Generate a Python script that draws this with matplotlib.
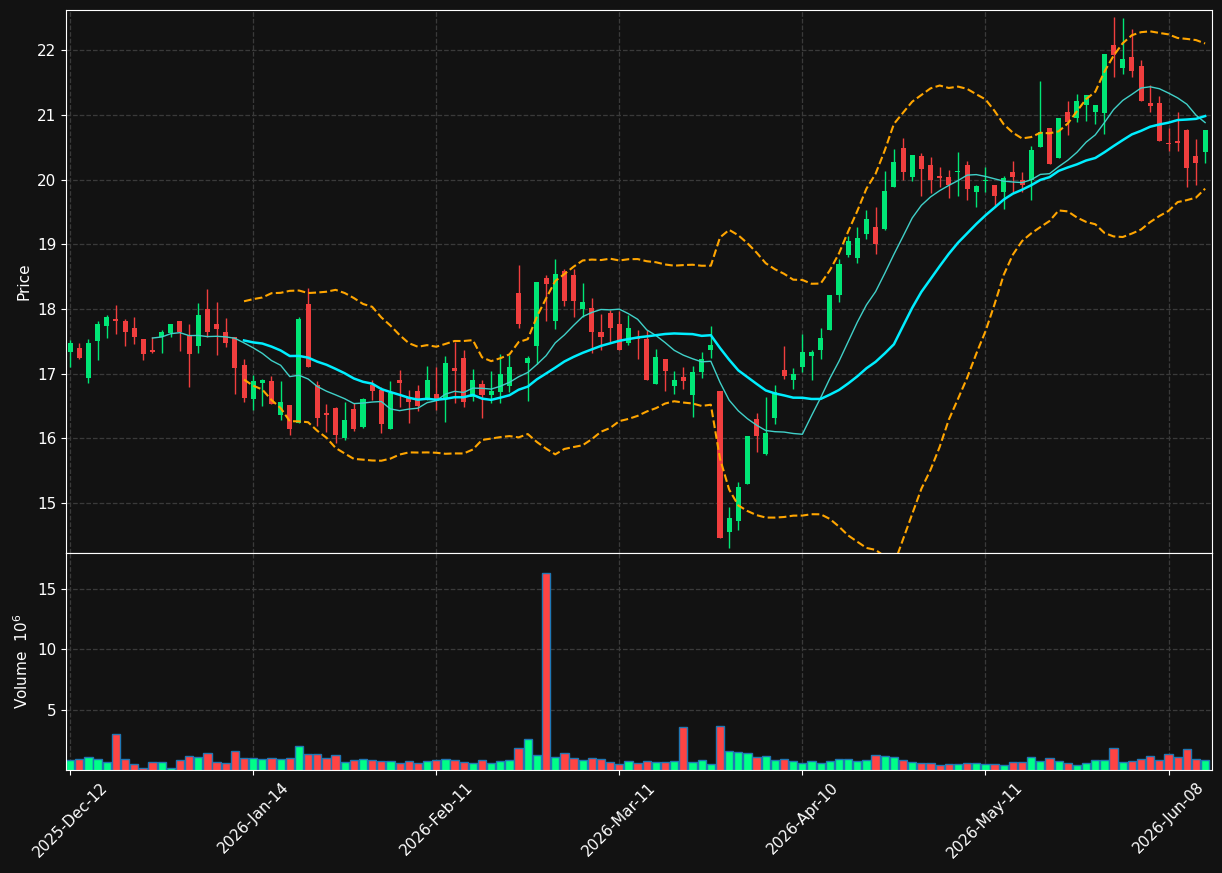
import numpy as np
import pandas as pd
import matplotlib
matplotlib.use('Agg')
import matplotlib.pyplot as plt

opens = [17.33, 17.39, 16.94, 17.50, 17.73, 17.85, 17.81, 17.70, 17.53, 17.37,
         17.56, 17.63, 17.81, 17.60, 17.43, 18.00, 17.76, 17.65, 17.56, 17.14,
         16.61, 16.86, 16.88, 16.36, 16.51, 16.24, 18.07, 16.82, 16.39, 16.47,
         16.01, 16.45, 16.18, 16.82, 16.75, 16.14, 16.90, 16.62, 16.73, 16.62,
         16.68, 16.63, 17.09, 17.24, 16.64, 16.84, 16.67, 16.71, 16.81, 18.24,
         17.16, 17.42, 18.48, 17.81, 18.59, 18.53, 18.00, 18.02, 17.65, 17.94,
         17.77, 17.47, 17.56, 17.54, 16.84, 17.23, 16.81, 16.95, 16.67, 17.03,
         17.36, 16.73, 14.55, 14.73, 15.29, 16.30, 15.76, 16.32, 17.05, 16.91,
         17.10, 17.28, 17.37, 17.68, 18.21, 18.84, 18.79, 19.16, 19.27, 19.24,
         19.88, 20.49, 20.04, 20.37, 20.23, 20.06, 20.04, 20.11, 20.23, 19.81,
         19.97, 19.92, 19.80, 20.11, 19.99, 19.99, 20.50, 20.79, 20.33, 21.05,
         20.95, 21.15, 21.04, 21.03, 22.08, 21.73, 21.89, 21.75, 21.19, 21.19,
         20.57, 20.60, 20.76, 20.36, 20.42]
highs = [17.52, 17.48, 17.54, 17.82, 17.91, 18.06, 17.85, 17.87, 17.53, 17.56,
         17.67, 17.76, 17.82, 17.77, 18.09, 18.31, 18.11, 17.86, 17.56, 17.23,
         16.98, 16.92, 16.97, 16.89, 16.51, 17.88, 18.32, 16.88, 16.53, 16.49,
         16.56, 16.54, 16.62, 16.91, 16.79, 16.89, 17.05, 16.75, 16.82, 17.12,
         17.10, 17.28, 17.49, 17.37, 17.08, 16.91, 17.04, 17.31, 17.29, 18.68,
         17.28, 18.41, 18.52, 18.77, 18.61, 18.62, 18.40, 18.17, 17.92, 17.99,
         17.97, 17.91, 17.68, 17.68, 17.38, 17.23, 17.04, 17.11, 17.12, 17.33,
         17.74, 16.73, 14.94, 15.33, 16.04, 16.40, 16.64, 16.83, 17.43, 17.09,
         17.62, 17.37, 17.70, 18.22, 18.77, 19.12, 19.26, 19.53, 19.57, 20.13,
         20.47, 20.64, 20.38, 20.41, 20.35, 20.19, 20.14, 20.42, 20.29, 19.92,
         20.20, 19.92, 20.05, 20.29, 20.11, 20.52, 21.52, 20.79, 20.95, 21.22,
         21.32, 21.31, 21.15, 21.94, 22.51, 22.50, 22.32, 21.84, 21.46, 21.29,
         20.80, 21.05, 20.78, 20.62, 20.77]
lows = [17.10, 17.22, 16.86, 17.21, 17.55, 17.62, 17.43, 17.46, 17.21, 17.32,
        17.32, 17.56, 17.35, 16.79, 17.32, 17.57, 17.29, 17.41, 16.69, 16.56,
        16.44, 16.50, 16.53, 16.29, 16.05, 16.24, 17.11, 16.19, 16.10, 15.93,
        15.97, 16.11, 16.16, 16.59, 16.09, 16.14, 16.49, 16.24, 16.42, 16.59,
        16.44, 16.26, 16.54, 16.49, 16.58, 16.31, 16.55, 16.55, 16.72, 17.70,
        16.58, 17.15, 17.81, 17.69, 18.05, 17.87, 17.87, 17.32, 17.37, 17.49,
        17.36, 17.44, 17.23, 16.90, 16.84, 16.74, 16.69, 16.77, 16.33, 16.94,
        17.25, 14.46, 14.31, 14.59, 15.29, 15.79, 15.75, 16.22, 16.92, 16.76,
        17.02, 16.91, 17.22, 17.68, 18.11, 18.81, 18.71, 19.08, 18.85, 19.22,
        19.88, 19.99, 19.97, 19.74, 19.79, 19.88, 19.71, 19.75, 19.69, 19.57,
        19.81, 19.58, 19.54, 19.81, 19.81, 19.68, 20.50, 20.24, 20.33, 20.69,
        20.89, 20.91, 20.86, 20.70, 21.58, 21.63, 21.58, 21.22, 21.04, 20.59,
        20.44, 20.44, 19.89, 19.92, 20.25]
closes = [17.48, 17.25, 17.48, 17.76, 17.87, 17.82, 17.64, 17.56, 17.31, 17.34,
          17.64, 17.76, 17.64, 17.30, 17.90, 17.64, 17.69, 17.47, 17.09, 16.63,
          16.88, 16.90, 16.53, 16.57, 16.15, 17.85, 17.11, 16.32, 16.36, 16.06,
          16.28, 16.15, 16.61, 16.73, 16.23, 16.70, 16.85, 16.56, 16.50, 16.91,
          16.58, 17.17, 17.04, 16.56, 16.90, 16.67, 16.73, 17.00, 17.11, 17.76,
          17.25, 18.41, 18.39, 18.54, 18.13, 18.13, 18.10, 17.64, 17.57, 17.70,
          17.36, 17.71, 17.53, 16.90, 17.26, 17.04, 16.90, 16.89, 17.02, 17.22,
          17.45, 14.46, 14.77, 15.25, 16.04, 16.04, 16.08, 16.71, 16.96, 17.00,
          17.33, 17.33, 17.55, 18.22, 18.70, 19.05, 19.10, 19.39, 19.01, 19.82,
          20.27, 20.12, 20.38, 20.17, 20.00, 20.02, 19.91, 20.13, 19.86, 19.90,
          19.99, 19.75, 20.02, 20.04, 19.91, 20.45, 20.74, 20.24, 20.95, 20.89,
          21.22, 21.31, 21.15, 21.94, 21.92, 21.86, 21.68, 21.22, 21.14, 20.59,
          20.55, 20.56, 20.18, 20.25, 20.77]
volumes = [0.87, 0.95, 1.12, 0.95, 0.70, 3.02, 0.95, 0.54, 0.21, 0.70,
           0.70, 0.21, 0.87, 1.20, 1.12, 1.45, 0.70, 0.62, 1.61, 1.03,
           1.03, 0.95, 1.03, 0.95, 1.03, 2.02, 1.36, 1.36, 1.03, 1.28,
           0.70, 0.87, 0.95, 0.87, 0.79, 0.79, 0.62, 0.79, 0.62, 0.79,
           0.87, 0.95, 0.87, 0.70, 0.62, 0.87, 0.62, 0.79, 0.87, 1.86,
           2.60, 1.28, 16.32, 1.12, 1.45, 1.03, 0.87, 1.03, 0.95, 0.70,
           0.54, 0.79, 0.62, 0.79, 0.70, 0.70, 0.79, 3.60, 0.70, 0.87,
           0.54, 3.68, 1.61, 1.53, 1.45, 1.12, 1.20, 0.87, 0.95, 0.79,
           0.62, 0.79, 0.62, 0.79, 0.95, 0.95, 0.79, 0.87, 1.28, 1.20,
           1.12, 0.87, 0.70, 0.62, 0.62, 0.45, 0.54, 0.54, 0.62, 0.62,
           0.54, 0.54, 0.45, 0.70, 0.70, 1.12, 0.79, 1.03, 0.79, 0.62,
           0.45, 0.62, 0.87, 0.87, 1.86, 0.70, 0.79, 0.95, 1.20, 0.87,
           1.36, 1.12, 1.78, 0.95, 0.87]
tick_labels = ['2025-Dec-12', '2026-Jan-14', '2026-Feb-11', '2026-Mar-11',
               '2026-Apr-10', '2026-May-11', '2026-Jun-08']

df = pd.DataFrame({'Open': opens, 'High': highs, 'Low': lows, 'Close': closes, 'Volume': volumes})
x = np.arange(len(df))
up = df['Close'] >= df['Open']

bg = '#121212'
colors = np.where(up, '#00e676', '#f03e3e')       # candles
vcolors = np.where(up, '#00ff88', '#ff4444')      # volume bars are a bit brighter

ma10 = df['Close'].rolling(10).mean()
ma20 = df['Close'].rolling(20).mean()
std20 = df['Close'].rolling(20).std()
bb_up = ma20 + 2 * std20
bb_dn = ma20 - 2 * std20

fig = plt.figure(figsize=(12.22, 8.73), dpi=100, facecolor=bg)
ax = fig.add_axes([0.054, 0.3666, 0.9378, 0.622])
axv = fig.add_axes([0.054, 0.118, 0.9378, 0.2486], sharex=ax)

for a in (ax, axv):
    a.set_facecolor(bg)
    a.grid(True, color='#3a3a3a', linestyle='--', linewidth=0.9)
    a.set_axisbelow(True)
    for s in a.spines.values():
        s.set_color('white')
    a.tick_params(colors='white', labelsize=11)

# candles
body_bottom = np.minimum(df['Open'], df['Close'])
body_h = np.maximum(np.abs(df['Close'] - df['Open']), 0.02)
ax.vlines(x, df['Low'], df['High'], colors=colors, linewidth=1)
ax.bar(x, body_h, bottom=body_bottom, width=0.55, color=colors, linewidth=0)

ax.plot(x, ma10, color='#40d0c8', linewidth=1)
ax.plot(x, ma20, color='#00eeff', linewidth=1.8)
ax.plot(x, bb_up, color='orange', linestyle='--', linewidth=1.5)
ax.plot(x, bb_dn, color='orange', linestyle='--', linewidth=1.5)

ax.set_ylim(14.23, 22.62)
ax.set_yticks(range(15, 23))
ax.set_ylabel('Price', color='white', fontsize=11)
plt.setp(ax.get_xticklabels(), visible=False)
ax.tick_params(axis='x', length=0)

axv.bar(x, df['Volume'], width=0.9, color=vcolors, edgecolor='#1f77b4', linewidth=1)
axv.set_ylim(0.3 * min(volumes), 1.1 * max(volumes))
axv.set_yticks([5, 10, 15])
axv.set_ylabel('Volume  $10^{6}$', color='white', fontsize=11)

axv.set_xlim(-0.45, len(df) - 0.25)
axv.set_xticks(x[::20])
axv.set_xticklabels(tick_labels, rotation=45, ha='center')

fig.savefig('out.png', dpi=100, facecolor=bg)
